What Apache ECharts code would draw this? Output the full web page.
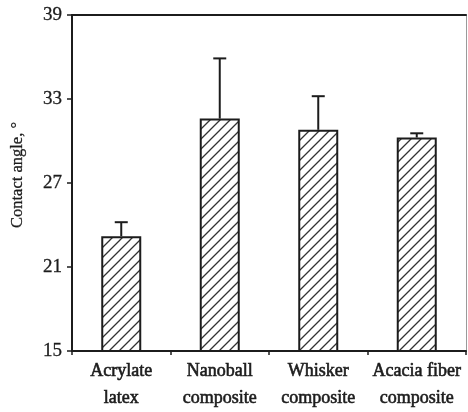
<!DOCTYPE html>
<html>
<head>
<meta charset="utf-8">
<script src="https://cdn.jsdelivr.net/npm/echarts@6/dist/echarts.min.js"></script>
<style>
  html, body { margin: 0; padding: 0; background: #fff; }
  #chart { width: 468px; height: 412px; }
</style>
</head>
<body>
<div id="chart"></div>
<script>
// Contact angle of the coatings, mean and upper error (degrees)
const categories = ['Acrylate\nlatex', 'Nanoball\ncomposite', 'Whisker\ncomposite', 'Acacia fiber\ncomposite'];
const contactAngle = [23.2, 31.6, 30.8, 30.25];
const errorUp = [1.0, 4.3, 2.4, 0.3];
const yTicks = [15, 21, 27, 33, 39];

const INK = '#1c1c1c';
const FONT = '"Liberation Serif", "Times New Roman", serif';

// diagonal hatch tile for the bars
function hatchPattern(size) {
  const c = document.createElement('canvas');
  c.width = size; c.height = size;
  const g = c.getContext('2d');
  g.fillStyle = '#ffffff';
  g.fillRect(0, 0, size, size);
  g.strokeStyle = '#333333';
  g.lineWidth = 1.3;
  g.beginPath();
  g.moveTo(-1, size + 1); g.lineTo(size + 1, -1);
  g.moveTo(-1, 1); g.lineTo(1, -1);
  g.moveTo(size - 1, size + 1); g.lineTo(size + 1, size - 1);
  g.stroke();
  return c;
}

const chart = echarts.init(document.getElementById('chart'), null, { renderer: 'canvas' });

const errData = contactAngle.map((v, i) => [i, v, v + errorUp[i]]);

chart.setOption({
  animation: false,
  backgroundColor: '#ffffff',
  grid: { left: 72, right: 2, top: 15, bottom: 61 },
  xAxis: [{
    type: 'category',
    data: categories,
    boundaryGap: true,
    axisLine: { lineStyle: { color: INK, width: 2 } },
    axisTick: { show: true, length: 4, inside: false, lineStyle: { color: INK, width: 1.5 } },
    axisLabel: {
      color: INK, fontFamily: FONT, fontSize: 18, lineHeight: 27, margin: 7,
      textBorderColor: INK, textBorderWidth: 0.6,
      interval: 0
    }
  }, {
    type: 'category',
    position: 'top',
    data: categories,
    axisLine: { lineStyle: { color: INK, width: 2 } },
    axisTick: { show: false },
    axisLabel: { show: false }
  }],
  yAxis: [{
    type: 'value',
    min: yTicks[0],
    max: yTicks[yTicks.length - 1],
    interval: yTicks[1] - yTicks[0],
    axisLine: { show: true, lineStyle: { color: INK, width: 2 } },
    axisTick: { show: true, length: 5, lineStyle: { color: INK, width: 1.5 } },
    axisLabel: {
      color: INK, fontFamily: FONT, fontSize: 19, margin: 10,
      textBorderColor: INK, textBorderWidth: 0.3
    },
    splitLine: { show: false }
  }, {
    type: 'value',
    position: 'right',
    min: yTicks[0],
    max: yTicks[yTicks.length - 1],
    interval: yTicks[1] - yTicks[0],
    axisLine: { show: true, lineStyle: { color: '#9a9a9a', width: 1 } },
    axisTick: { show: false },
    axisLabel: { show: false },
    splitLine: { show: false }
  }],
  graphic: [{
    type: 'text',
    x: 18, y: 175,
    rotation: Math.PI / 2,
    style: {
      text: 'Contact angle, °',
      font: '16.5px ' + FONT,
      fill: INK,
      stroke: INK,
      lineWidth: 0.3,
      align: 'center',
      verticalAlign: 'middle'
    }
  }],
  series: [{
    type: 'bar',
    data: contactAngle,
    barWidth: 40,
    itemStyle: {
      color: { image: hatchPattern(10), repeat: 'repeat' },
      borderColor: INK,
      borderWidth: 2
    },
    z: 2
  }, {
    type: 'custom',
    data: errData,
    z: 3,
    renderItem: function (params, api) {
      const base = api.coord([api.value(0), api.value(1)]);
      const top = api.coord([api.value(0), api.value(2)]);
      const half = 6.5;
      const st = { stroke: INK, lineWidth: 2 };
      return {
        type: 'group',
        children: [
          { type: 'line', shape: { x1: base[0], y1: base[1], x2: top[0], y2: top[1] }, style: st },
          { type: 'line', shape: { x1: top[0] - half, y1: top[1], x2: top[0] + half, y2: top[1] }, style: st }
        ]
      };
    }
  }]
});
</script>
</body>
</html>
